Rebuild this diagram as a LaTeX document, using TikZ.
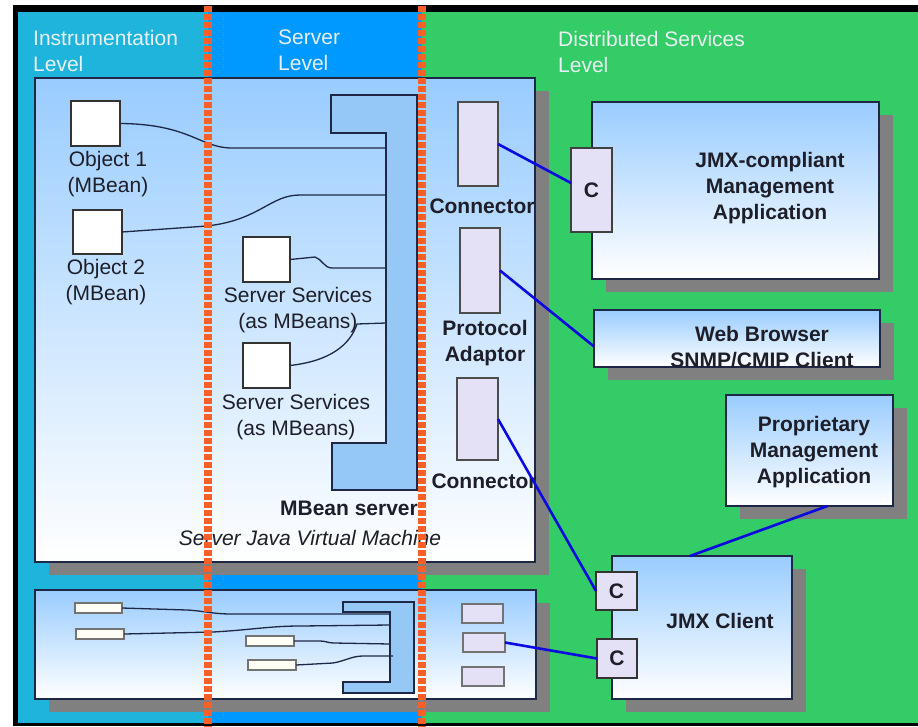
\documentclass[tikz,border=0pt]{standalone}
\usepackage{fontspec}
\setmainfont{Liberation Sans}
\usetikzlibrary{shadows,calc}
\definecolor{cyanlvl}{RGB}{31,180,220}
\definecolor{bluelvl}{RGB}{0,153,255}
\definecolor{greenlvl}{RGB}{51,204,102}
\definecolor{boxblue}{RGB}{153,204,255}
\definecolor{brk}{RGB}{150,200,245}
\definecolor{lav}{RGB}{228,224,246}
\definecolor{navy}{RGB}{30,40,70}
\definecolor{linkblue}{RGB}{10,10,225}
\definecolor{shadowgray}{RGB}{128,128,128}
\definecolor{txt}{RGB}{30,30,40}
\definecolor{lvltxt}{RGB}{232,240,244}
\definecolor{reddash}{RGB}{250,95,40}
\begin{document}
\begin{tikzpicture}[x=1pt,y=-1pt,
  panel/.style={draw=navy, line width=1.6pt, top color=boxblue, bottom color=white,
    inner sep=0pt, outer sep=0pt,
    drop shadow={shadow xshift=14pt, shadow yshift=-13pt, opacity=1, fill=shadowgray}},
  mbox/.style={draw=black!80, line width=1.5pt, fill=white, inner sep=0pt, outer sep=0pt},
  sbar/.style={draw=black!55, line width=1.5pt, fill=white!96!yellow, inner sep=0pt, outer sep=0pt},
  lavbox/.style={draw=black!70, line width=1.3pt, fill=lav, inner sep=0pt, outer sep=0pt},
  wire/.style={draw=navy, line width=1.3pt},
  link/.style={draw=linkblue, line width=2.6pt},
  lbl/.style={font=\fontsize{21}{26}\selectfont, text=txt, align=center, inner sep=0pt},
  blbl/.style={font=\bfseries\fontsize{21}{26}\selectfont, text=txt, align=center, inner sep=0pt},
  ilbl/.style={font=\itshape\fontsize{21}{26}\selectfont, text=txt, align=center, inner sep=0pt},
  lvl/.style={font=\fontsize{21}{26}\selectfont, text=lvltxt, align=left, inner sep=0pt, anchor=north west},
  dashsq/.style={fill=reddash}
]
\useasboundingbox (0,0) rectangle (918,726);
\fill[white] (0,0) rectangle (918,726);
\fill[black] (13,5) rectangle (918,726);
\fill[cyanlvl] (18,12) rectangle (208,723);
\fill[bluelvl] (208,12) rectangle (422,723);
\fill[greenlvl] (422,12) rectangle (918,723);

% level labels
\node[lvl] (lvlA) at (33,30) {Instrumentation\\Level};
\node[lvl] (lvlB) at (278,30) {Server\\Level};
\node[lvl] (lvlC) at (558,31) {Distributed Services\\Level};

% panels
\node[panel, minimum width=500pt, minimum height=484pt] (jvm) at (285,320) {};
\node[panel, minimum width=501pt, minimum height=109pt] (bot) at (285.5,644.5) {};
\node[panel, minimum width=287pt, minimum height=177pt] (app) at (735.5,190.5) {};
\node[panel, minimum width=286pt, minimum height=57pt] (web) at (737,338.5) {};
\node[panel, minimum width=167pt, minimum height=111pt] (prop) at (809.5,450.5) {};
\node[panel, minimum width=180pt, minimum height=143pt] (client) at (702,627.5) {};

% MBean server bracket
\draw[navy, line width=1.8pt, fill=brk] (331,95) -- (417,95) -- (417,490) -- (332,490) -- (332,443) -- (386,443) -- (386,133) -- (331,133) -- cycle;
\coordinate (m1) at (386,148);
\coordinate (m2) at (386,195);
\coordinate (m3) at (386,268);
\coordinate (m4) at (386,323);

% MBeans
\node[mbox, minimum width=49pt, minimum height=45pt] (obj1) at (95.5,123.5) {};
\node[mbox, minimum width=49pt, minimum height=44pt] (obj2) at (97.5,232) {};
\node[mbox, minimum width=47pt, minimum height=45pt] (ss1) at (266.5,259.5) {};
\node[mbox, minimum width=47pt, minimum height=45pt] (ss2) at (266.5,365.5) {};

\draw[wire] (obj1.east) .. controls (190,124) and (200,148) .. (232,148) -- (m1);
\draw[wire] (obj2.east) -- (207,226) .. controls (260,220) and (270,195) .. (300,195) -- (m2);
\draw[wire] (ss1.east) -- (315,257) .. controls (322,259) and (324,268) .. (332,268) -- (m3);
\draw[wire] (ss2.east) .. controls (330,361) and (350,345) .. (357,324) -- (m4);

% connectors
\node[lavbox, minimum width=40pt, minimum height=84pt] (conn1) at (478,144) {};
\node[lavbox, minimum width=40pt, minimum height=85pt] (pa) at (480,270.5) {};
\node[lavbox, minimum width=41pt, minimum height=82pt] (conn2) at (477.5,419) {};

% labels JVM
\node[lbl] (t1) at (108,174) {Object 1\\(MBean)};
\node[lbl] (t2) at (106,282.5) {Object 2\\(MBean)};
\node[lbl] (t3) at (298,310) {Server Services\\(as MBeans)};
\node[lbl] (t4) at (296,417) {Server Services\\(as MBeans)};
\node[blbl] (t5) at (349,508) {MBean server};
\node[ilbl] (t6) at (310,538) {Server Java Virtual Machine};
\node[blbl] (t7) at (482,206) {Connector};
\node[blbl] (t8) at (485,343) {Protocol\\Adaptor};
\node[blbl] (t9) at (484,481) {Connector};

% bottom strip
\draw[navy, line width=1.6pt, fill=brk] (343,602) -- (414,602) -- (414,693) -- (343,693) -- (343,682) -- (390,682) -- (390,612) -- (343,612) -- cycle;
\coordinate (n1) at (390,614);
\coordinate (n2) at (390,625);
\coordinate (n3) at (390,644);
\coordinate (n4) at (393,656);
\node[sbar, minimum width=47pt, minimum height=10pt] (b1) at (98.5,608) {};
\node[sbar, minimum width=48pt, minimum height=10pt] (b2) at (100,634) {};
\node[sbar, minimum width=48pt, minimum height=10pt] (b3) at (270,641) {};
\node[sbar, minimum width=48pt, minimum height=10pt] (b4) at (272,665) {};
\draw[wire] (b1.east) -- (187,610) .. controls (205,611) and (212,614) .. (232,614) -- (n1);
\draw[wire] (b2.east) -- (213,632) .. controls (250,630) and (270,626) .. (300,626) -- (n2);
\draw[wire] (b3.east) -- (320,641) .. controls (326,641) and (328,643) .. (334,643) -- (n3);
\draw[wire] (b4.east) -- (333,663) .. controls (345,661) and (352,656) .. (363,656) -- (n4);
\node[lavbox, draw=black!55, minimum width=41pt, minimum height=19pt] (r1) at (482.5,613.5) {};
\node[lavbox, draw=black!55, minimum width=42pt, minimum height=19pt] (r2) at (484,642.5) {};
\node[lavbox, draw=black!55, minimum width=42pt, minimum height=19pt] (r3) at (483,676.5) {};

% right side
\node[lavbox, draw=black!75, minimum width=41pt, minimum height=84pt, blbl] (capp) at (591.5,190) {C};
\node[blbl] (tapp) at (770,188) {JMX-compliant\\Management\\Application};
\node[blbl] (tweb) at (762,347) {Web Browser\\SNMP/CMIP Client};
\node[blbl] (tprop) at (814,452) {Proprietary\\Management\\Application};
\node[blbl] (tclient) at (720,621) {JMX Client};
\node[lavbox, draw=black!80, minimum width=41pt, minimum height=38pt, blbl] (cc1) at (616.5,591) {C};
\node[lavbox, draw=black!80, minimum width=40pt, minimum height=39pt, blbl] (cc2) at (617,658.5) {C};

% links
\draw[link] (conn1.east) -- ([yshift=7pt]capp.west);
\draw[link] (pa.east) -- ([yshift=-8pt]web.west);
\draw[link] (conn2.east) -- (cc1.west);
\draw[link] ([xshift=18pt]prop.south) -- ([xshift=-12pt]client.north);
\draw[link] (r2.east) -- (cc2.west);

% level separators (dashed, drawn as squares)
\foreach \yy in {6,14,...,726} {
  \fill[dashsq] (204,\yy) rectangle (212,\yy+5.5);
  \fill[dashsq] (418,\yy) rectangle (426,\yy+5.5);
}
\end{tikzpicture}
\end{document}
